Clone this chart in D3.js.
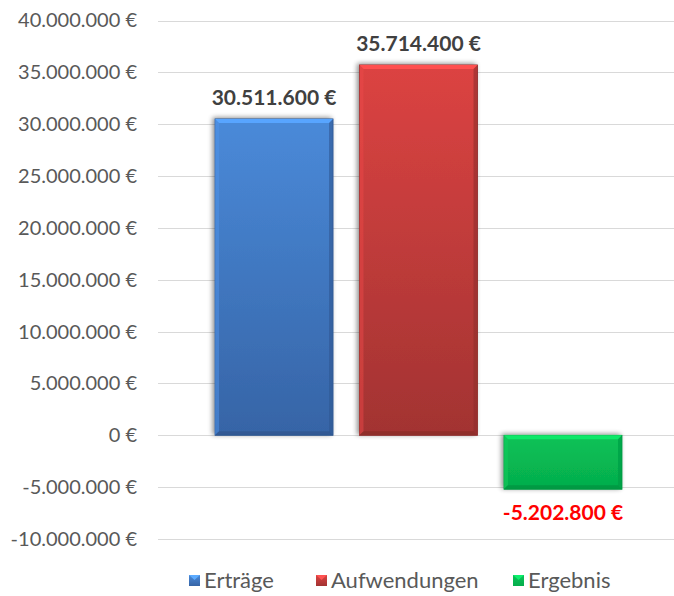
<!DOCTYPE html>
<html>
<head>
<meta charset="utf-8">
<script src="https://cdn.jsdelivr.net/npm/d3@7"></script>
<style>
  body { margin: 0; background: #fff; }
  svg { display: block; font-family: Lato, "Noto Sans", sans-serif; }
</style>
</head>
<body>
<svg width="674" height="596"></svg>
<script>
var series = ["Erträge", "Aufwendungen", "Ergebnis"];
var values = [30511600, 35714400, -5202800];
var tickValues = [-10000000, -5000000, 0, 5000000, 10000000, 15000000, 20000000, 25000000, 30000000, 35000000, 40000000];
var colors = {
  "Erträge": ["#4a8ad9", "#3664a6"],
  "Aufwendungen": ["#dc4342", "#a23332"],
  "Ergebnis": ["#0ac257", "#05ad4c"]
};

var svg = d3.select("svg"),
    gridLeft = 158, gridRight = 674;

var de = d3.formatLocale({decimal: ",", thousands: ".", grouping: [3], currency: ["", " €"], minus: "-"});
var euro = de.format("$,.0f");

var y = d3.scaleLinear()
    .domain([-10000000, 40000000])
    .range([539, 20.5]);

var x = d3.scaleBand()
    .domain(series)
    .range([215, 622])
    .paddingInner(0.183)
    .paddingOuter(0);

var defs = svg.append("defs");

// soft shadow round the bars
var f = defs.append("filter").attr("id", "shadow")
    .attr("x", "-20%").attr("y", "-20%").attr("width", "140%").attr("height", "140%");
f.append("feGaussianBlur").attr("in", "SourceAlpha").attr("stdDeviation", 2.5).attr("result", "b");
f.append("feOffset").attr("in", "b").attr("dx", -2).attr("dy", -1).attr("result", "o");
f.append("feComponentTransfer").attr("in", "o").attr("result", "s")
  .append("feFuncA").attr("type", "linear").attr("slope", 0.45);
var m = f.append("feMerge");
m.append("feMergeNode").attr("in", "s");
m.append("feMergeNode").attr("in", "SourceGraphic");

series.forEach(function(s, i) {
  var gr = defs.append("linearGradient").attr("id", "grad" + i)
      .attr("x1", 0).attr("y1", 0).attr("x2", 0).attr("y2", 1);
  gr.append("stop").attr("offset", "0%").attr("stop-color", colors[s][0]);
  gr.append("stop").attr("offset", "100%").attr("stop-color", colors[s][1]);
});

// gridlines
svg.append("g")
  .selectAll("line")
  .data(tickValues)
  .enter().append("line")
    .attr("x1", gridLeft)
    .attr("x2", gridRight)
    .attr("y1", function(d) { return Math.round(y(d)) + 0.5; })
    .attr("y2", function(d) { return Math.round(y(d)) + 0.5; })
    .attr("stroke", "#d9d9d9")
    .attr("stroke-width", 1);

// y axis labels
var yAxis = svg.append("g")
    .attr("transform", "translate(140,0)")
    .call(d3.axisLeft(y).tickValues(tickValues).tickSize(0).tickPadding(3).tickFormat(euro));
yAxis.select(".domain").remove();
yAxis.selectAll("text")
    .attr("fill", "#595959")
    .attr("font-size", 20)
    .attr("font-family", "Lato, sans-serif");

var data = series.map(function(s, i) { return {key: s, value: values[i], i: i}; });

var bars = svg.append("g")
  .selectAll("g")
  .data(data)
  .enter().append("g")
    .attr("filter", "url(#shadow)");

bars.append("rect")
    .attr("x", function(d) { return x(d.key); })
    .attr("y", function(d) { return y(Math.max(0, d.value)); })
    .attr("width", x.bandwidth())
    .attr("height", function(d) { return Math.abs(y(d.value) - y(0)); })
    .attr("fill", function(d) { return "url(#grad" + d.i + ")"; })
    .attr("stroke", function(d) { return d3.color(colors[d.key][1]).darker(0.4); })
    .attr("stroke-width", 0.8);

// bevel edges
var bev = 4;
function box(d) {
  var x0 = x(d.key), x1 = x0 + x.bandwidth(),
      t = y(Math.max(0, d.value)), b = y(Math.min(0, d.value));
  return {x0: x0, x1: x1, t: t, b: b};
}
bars.append("path")
    .attr("d", function(d) { var r = box(d);
      return "M" + r.x0 + "," + r.t + "L" + r.x1 + "," + r.t + "L" + (r.x1 - bev) + "," + (r.t + bev) + "L" + (r.x0 + bev) + "," + (r.t + bev) + "Z"; })
    .attr("fill", function(d) { return d3.color(colors[d.key][0]).brighter(0.5); });
bars.append("path")
    .attr("d", function(d) { var r = box(d);
      return "M" + r.x1 + "," + r.t + "L" + r.x1 + "," + r.b + "L" + (r.x1 - bev) + "," + (r.b - bev) + "L" + (r.x1 - bev) + "," + (r.t + bev) + "Z"; })
    .attr("fill", function(d) { return d3.color(colors[d.key][1]).darker(0.35); })
    .attr("opacity", 0.6);
bars.append("path")
    .attr("d", function(d) { var r = box(d);
      return "M" + r.x0 + "," + r.t + "L" + r.x0 + "," + r.b + "L" + (r.x0 + bev) + "," + (r.b - bev) + "L" + (r.x0 + bev) + "," + (r.t + bev) + "Z"; })
    .attr("fill", function(d) { return d3.color(colors[d.key][0]).brighter(0.2); })
    .attr("opacity", 0.5);
bars.append("path")
    .attr("d", function(d) { var r = box(d);
      return "M" + r.x0 + "," + r.b + "L" + r.x1 + "," + r.b + "L" + (r.x1 - bev) + "," + (r.b - bev) + "L" + (r.x0 + bev) + "," + (r.b - bev) + "Z"; })
    .attr("fill", function(d) { return d3.color(colors[d.key][1]).darker(0.5); })
    .attr("opacity", 0.7);

// value labels
svg.append("g")
  .selectAll("text")
  .data(data)
  .enter().append("text")
    .attr("x", function(d) { return x(d.key) + x.bandwidth() / 2; })
    .attr("y", function(d) { return d.value >= 0 ? y(d.value) - 14 : y(d.value) + 31; })
    .attr("text-anchor", "middle")
    .attr("font-size", 21)
    .attr("font-weight", "bold")
    .attr("fill", function(d) { return d.value >= 0 ? "#404040" : "#ff0000"; })
    .text(function(d) { return euro(d.value); });

// legend
var legendX = [189, 316, 513];
var legend = svg.append("g")
  .selectAll("g")
  .data(data)
  .enter().append("g")
    .attr("transform", function(d, i) { return "translate(" + legendX[i] + ",575)"; });

legend.append("rect")
    .attr("width", 11)
    .attr("height", 11)
    .attr("fill", function(d) { return "url(#grad" + d.i + ")"; });
legend.append("path")
    .attr("d", "M0,0L11,0L5.5,5Z")
    .attr("fill", function(d) { return d3.color(colors[d.key][0]).brighter(0.6); });

legend.append("text")
    .attr("x", 15)
    .attr("y", 5.5)
    .attr("dy", "0.35em")
    .attr("font-size", 22)
    .attr("fill", "#595959")
    .text(function(d) { return d.key; });
</script>
</body>
</html>
